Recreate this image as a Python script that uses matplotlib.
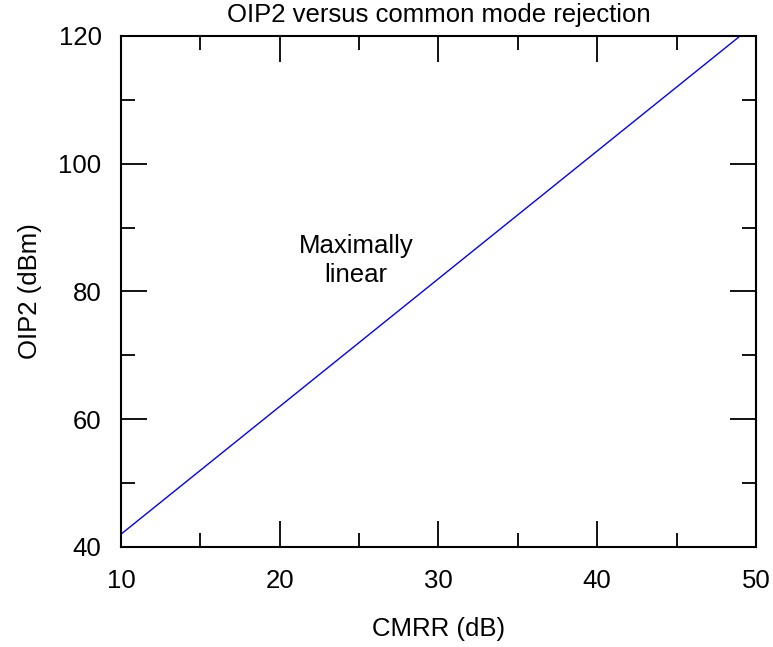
import matplotlib
matplotlib.use('Agg')
import matplotlib.pyplot as plt
from matplotlib.ticker import MultipleLocator

plt.rcParams['font.family'] = ['Liberation Sans', 'DejaVu Sans']

# CMRR (dB) vs OIP2 (dBm), straight line
cmrr = [10, 49]
oip2 = [42, 120]

fig = plt.figure(figsize=(7.73, 6.47), dpi=100)
ax = fig.add_axes([0.1565, 0.1546, 0.8215, 0.7898])

ax.plot(cmrr, oip2, color='#0000ff', linewidth=1.0)

ax.set_xlim(10, 50)
ax.set_ylim(40, 120)
ax.xaxis.set_major_locator(MultipleLocator(10))
ax.xaxis.set_minor_locator(MultipleLocator(5))
ax.yaxis.set_major_locator(MultipleLocator(20))
ax.yaxis.set_minor_locator(MultipleLocator(10))
ax.tick_params(which='both', direction='in', top=True, right=True,
               labelsize=18.5, width=1.3, color='black')
ax.tick_params(which='major', length=19)
ax.tick_params(which='minor', length=10)
ax.tick_params(axis='x', which='major', pad=16)
ax.tick_params(axis='y', which='major', pad=14)
for s in ax.spines.values():
    s.set_linewidth(1.5)

ax.set_title('OIP2 versus common mode rejection', fontsize=18.5, pad=10)
ax.set_xlabel('CMRR (dB)', fontsize=18.5, labelpad=17)
ax.set_ylabel('OIP2 (dBm)', fontsize=18.5, labelpad=12)
ax.text(24.8, 84.8, 'Maximally\nlinear', fontsize=18.5, ha='center', va='center',
        linespacing=1.25)

fig.savefig('out.png', dpi=100)
